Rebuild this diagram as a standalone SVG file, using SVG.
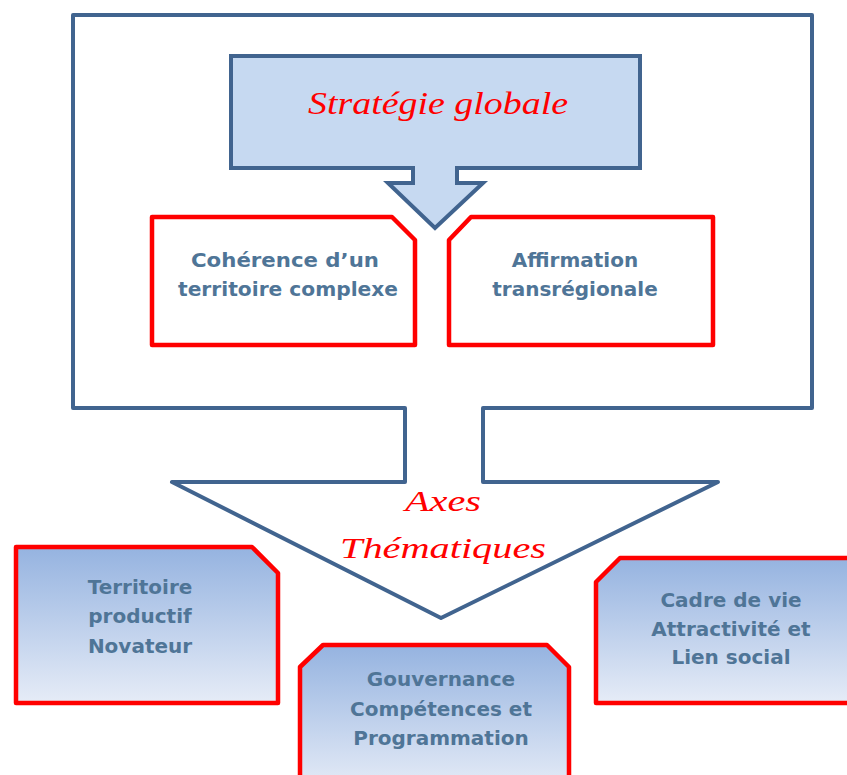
<svg xmlns="http://www.w3.org/2000/svg" width="847" height="775" viewBox="0 0 847 775">
<defs>
<linearGradient id="blueGrad" x1="0" y1="0" x2="0" y2="1">
<stop offset="0" stop-color="#95b3e0"/>
<stop offset="1" stop-color="#e6ecf7"/>
</linearGradient>
<style>
.frame{fill:#ffffff;stroke:#41648f;stroke-width:4;stroke-linejoin:round}
.callout{fill:#c6d9f1;stroke:#41648f;stroke-width:4;stroke-linejoin:miter}
.redbox{fill:#ffffff;stroke:#ff0000;stroke-width:4.5;stroke-linejoin:round}
.gradbox{fill:url(#blueGrad);stroke:#ff0000;stroke-width:4.5;stroke-linejoin:round}
.lbl{font-family:"DejaVu Sans","Liberation Sans",Arial,sans-serif;font-weight:bold;font-size:20px;fill:#4f7597;text-anchor:middle}
.script{font-family:"Liberation Serif","Times New Roman",serif;font-style:italic;fill:#ff0000;text-anchor:middle}
</style>
</defs>
<rect width="847" height="775" fill="#ffffff"/>
<g id="connectors"></g>
<g id="axes-frame">
<path class="frame" d="M73,15 H812 V408 H483 V482 H718 L441,618 L172,482 H405 V408 H73 Z"/>
<text class="script" x="443" y="511" font-size="30" textLength="76" lengthAdjust="spacingAndGlyphs">Axes</text>
<text class="script" x="443" y="558" font-size="30" textLength="206" lengthAdjust="spacingAndGlyphs">Thématiques</text>
</g>
<g id="strategie">
<path class="callout" d="M231,56 H640 V168 H457 V183 H483 L435,228 L388,183 H413 V168 H231 Z"/>
<text class="script" x="438" y="114" font-size="32" textLength="260" lengthAdjust="spacingAndGlyphs">Stratégie globale</text>
</g>
<g id="coherence">
<path class="redbox" d="M152,217 H392 L415,240 V345 H152 Z"/>
<text class="lbl" x="285" y="267" textLength="188" lengthAdjust="spacingAndGlyphs">Cohérence d’un</text>
<text class="lbl" x="288" y="296" textLength="220" lengthAdjust="spacingAndGlyphs">territoire complexe</text>
</g>
<g id="affirmation">
<path class="redbox" d="M471,217 H713 V345 H449 V240 Z"/>
<text class="lbl" x="575" y="267">Affirmation</text>
<text class="lbl" x="575" y="296">transrégionale</text>
</g>
<g id="territoire">
<path class="gradbox" d="M16,547 H252 L278,573 V703 H16 Z"/>
<text class="lbl" x="140" y="594">Territoire</text>
<text class="lbl" x="140" y="623">productif</text>
<text class="lbl" x="140" y="653">Novateur</text>
</g>
<g id="gouvernance">
<path class="gradbox" d="M323,645 H547 L569,667 V790 H300 V667 Z"/>
<text class="lbl" x="441" y="686">Gouvernance</text>
<text class="lbl" x="441" y="716">Compétences et</text>
<text class="lbl" x="441" y="745">Programmation</text>
</g>
<g id="cadre">
<path class="gradbox" d="M620,558 H860 V703 H596 V582 Z"/>
<text class="lbl" x="731" y="607">Cadre de vie</text>
<text class="lbl" x="731" y="636">Attractivité et</text>
<text class="lbl" x="731" y="664">Lien social</text>
</g>
</svg>
